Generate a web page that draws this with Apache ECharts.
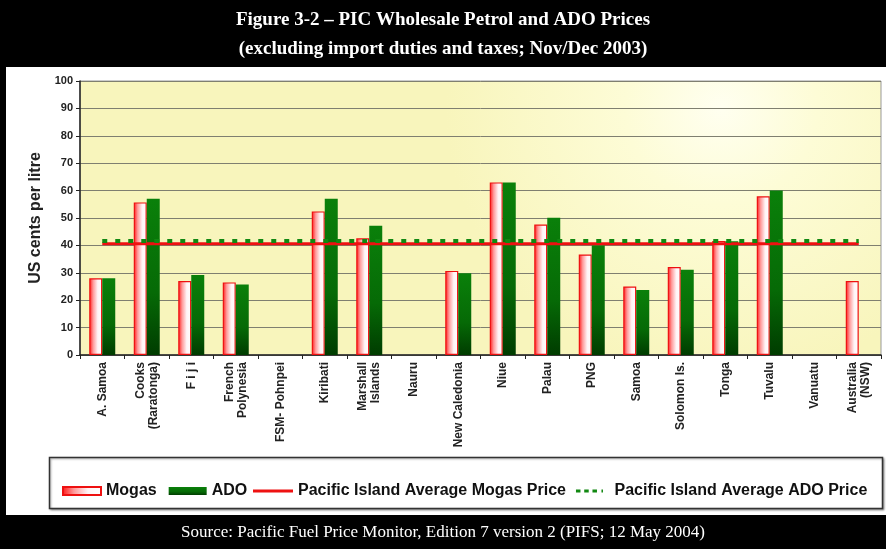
<!DOCTYPE html>
<html>
<head>
<meta charset="utf-8">
<script src="https://cdn.jsdelivr.net/npm/echarts@6/dist/echarts.min.js"></script>
<style>
html,body{margin:0;padding:0;background:#fff;}
#chart{width:886px;height:549px;}
</style>
</head>
<body>
<div id="chart"></div>
<script>
var categories = ['A. Samoa', 'Cooks\n(Raratonga)', 'F i j i', 'French\nPolynesia', 'FSM- Pohnpei', 'Kiribati',
  'Marshall\nIslands', 'Nauru', 'New Caledonia', 'Niue', 'Palau', 'PNG', 'Samoa', 'Solomon Is.',
  'Tonga', 'Tuvalu', 'Vanuatu', 'Australia\n(NSW)'];
var mogas = [28, 55.7, 27, 26.5, null, 52.4, 42.6, null, 30.7, 63, 47.6, 36.7, 25, 32.1, 41.6, 57.9, null, 27];
var ado   = [28, 57, 29.2, 25.7, null, 57, 47.2, null, 29.8, 63, 50.1, 40.1, 23.7, 31.1, 41.5, 60, null, null];
var avgMogas = [40.6, 40.6, 40.6, 40.6, 40.6, 40.6, 40.6, 40.6, 40.6, 40.6, 40.6, 40.6, 40.6, 40.6, 40.6, 40.6, 40.6, 40.6];
var avgAdo   = [41.6, 41.6, 41.6, 41.6, 41.6, 41.6, 41.6, 41.6, 41.6, 41.6, 41.6, 41.6, 41.6, 41.6, 41.6, 41.6, 41.6, 41.6];
var yTicks = {min: 0, max: 100, interval: 10};
var titleText = 'Figure 3-2 \u2013 PIC Wholesale Petrol and ADO Prices\n(excluding import duties and taxes; Nov/Dec 2003)';
var sourceText = 'Source: Pacific Fuel Price Monitor, Edition 7 version 2 (PIFS; 12 May 2004)';
var yName = 'US cents per litre';

var chart = echarts.init(document.getElementById('chart'), null, {renderer: 'canvas'});
var sans = 'Liberation Sans, Arial, sans-serif';
var serif = 'Liberation Serif, Times New Roman, serif';
var legendText = {fontFamily: sans, fontWeight: 'bold', fontSize: 16, color: '#111'};

var option = {
  backgroundColor: '#ffffff',
  animation: false,
  graphic: [
    {type: 'rect', z: -10, shape: {x: 0, y: 0, width: 886, height: 67}, style: {fill: '#000'}},
    {type: 'rect', z: -10, shape: {x: 0, y: 66, width: 6, height: 452}, style: {fill: '#000'}},
    {type: 'rect', z: -10, shape: {x: 0, y: 515, width: 886, height: 34}, style: {fill: '#000'}},
    {type: 'rect', z: -10, shape: {x: 49.5, y: 457.5, width: 833, height: 51}, style: {fill: '#fff', stroke: '#333', lineWidth: 1.5, shadowColor: 'rgba(0,0,0,0.35)', shadowOffsetX: 1, shadowOffsetY: 1, shadowBlur: 2}}
  ],
  title: [
    {text: titleText, left: 'center', top: 1,
     textStyle: {color: '#fff', fontFamily: serif, fontWeight: 'bold', fontSize: 19, lineHeight: 29}},
    {text: sourceText, left: 'center', top: 519,
     textStyle: {color: '#fff', fontFamily: serif, fontWeight: 'normal', fontSize: 17}}
  ],
  legend: [
    {left: 57, top: 478, itemWidth: 38, itemHeight: 8, itemGap: 12, textStyle: legendText,
     data: [{name: 'Mogas', icon: 'rect'}, {name: 'ADO', icon: 'rect'}]},
    {left: 248, top: 478, itemWidth: 40, itemHeight: 3, itemGap: 10, textStyle: legendText,
     data: [{name: 'Pacific Island Average Mogas Price', icon: 'rect'},
            {name: 'Pacific Island Average ADO Price', icon: 'path://M0,0H6V4H0ZM11,0H17V4H11ZM22,0H28V4H22ZM34,0H36V4H34Z'}]}
  ],
  grid: {
    left: 80, right: 5, top: 81, bottom: 194, show: true,
    borderColor: '#999', borderWidth: 1,
    backgroundColor: {type: 'radial', x: 0.8, y: 0.1, r: 1.0,
      colorStops: [{offset: 0, color: '#fffff0'}, {offset: 0.35, color: '#fdfcd6'}, {offset: 1, color: '#f8f5bc'}]}
  },
  xAxis: {
    type: 'category', data: categories,
    axisLine: {lineStyle: {color: '#222', width: 1.5}},
    axisTick: {show: true, length: 4, lineStyle: {color: '#222'}},
    axisLabel: {rotate: 90, interval: 0, fontFamily: sans, fontWeight: 'bold', fontSize: 12, color: '#222', margin: 7, lineHeight: 13, align: 'right'}
  },
  yAxis: {
    type: 'value', min: yTicks.min, max: yTicks.max, interval: yTicks.interval,
    name: yName, nameLocation: 'middle', nameGap: 33, nameRotate: 90,
    nameTextStyle: {fontFamily: sans, fontWeight: 'bold', fontSize: 16, color: '#222'},
    axisLine: {show: true, lineStyle: {color: '#222', width: 1.5}},
    axisTick: {show: true, length: 4, lineStyle: {color: '#222'}},
    axisLabel: {fontFamily: sans, fontWeight: 'bold', fontSize: 11, color: '#222', margin: 7},
    splitLine: {lineStyle: {color: '#7f7f70', width: 1}}
  },
  series: [
    {name: 'Mogas', type: 'bar', data: mogas, barWidth: 13, barGap: '0%',
     itemStyle: {color: {type: 'linear', x: 0, y: 0, x2: 1, y2: 0,
       colorStops: [{offset: 0, color: '#ff1515'}, {offset: 0.3, color: '#ff9a9a'}, {offset: 0.65, color: '#fff4f6'}, {offset: 1, color: '#ffffff'}]},
       borderColor: '#ee1010', borderWidth: 1.2}},
    {name: 'ADO', type: 'bar', data: ado, barWidth: 13,
     itemStyle: {color: {type: 'linear', x: 0, y: 0, x2: 0, y2: 1,
       colorStops: [{offset: 0, color: '#0a800a'}, {offset: 0.6, color: '#066a06'}, {offset: 1, color: '#003c00'}]}}},
    {name: 'Pacific Island Average Mogas Price', type: 'line', data: avgMogas, symbol: 'none', z: 4,
     lineStyle: {color: '#ee1111', width: 3}, itemStyle: {color: '#ee1111'}},
    {name: 'Pacific Island Average ADO Price', type: 'line', data: avgAdo, symbol: 'none', z: 5,
     lineStyle: {color: '#118811', width: 4, type: [5, 8]}, itemStyle: {color: '#118811'}}
  ]
};
chart.setOption(option);
</script>
</body>
</html>
